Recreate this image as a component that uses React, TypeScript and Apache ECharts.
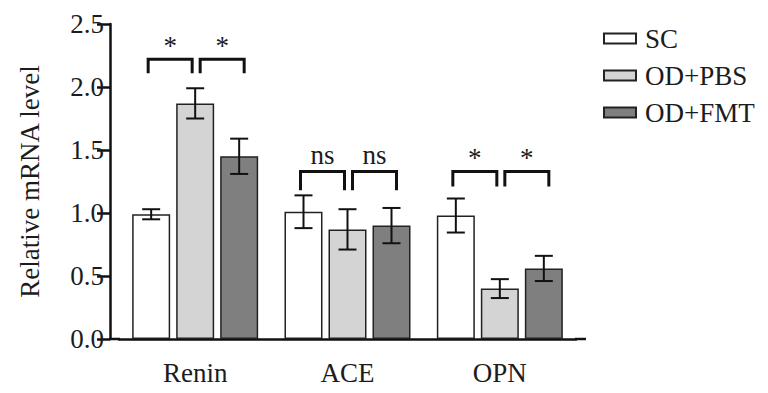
import React, { useEffect, useRef } from "react";
import * as echarts from "echarts";

const categories = ["Renin", "ACE", "OPN"];
const seriesNames = ["SC", "OD+PBS", "OD+FMT"];
const scMean = [0.99, 1.01, 0.98];
const scErr = [0.04, 0.13, 0.135];
const pbsMean = [1.87, 0.87, 0.4];
const pbsErr = [0.12, 0.16, 0.075];
const fmtMean = [1.45, 0.9, 0.56];
const fmtErr = [0.14, 0.14, 0.1];

const sigLabels = ["*", "*", "ns", "ns", "*", "*"];
const sigCats = [0, 0, 1, 1, 2, 2];
const sigSides = [-1, 1, -1, 1, -1, 1];
const sigTop = [2.22, 2.22, 1.33, 1.33, 1.33, 1.33];
const sigLeg = [2.11, 2.11, 1.18, 1.18, 1.21, 1.21];

const yTicks = { min: 0, max: 2.5, interval: 0.5 };

const FONT = "Liberation Serif, Times New Roman, serif";
const TEXT = "#1c1c1c";
const colors = ["#ffffff", "#d4d4d4", "#7f7f7f"];

function errSeries(means: number[], errs: number[], offset: number) {
  return {
    type: "custom",
    z: 5,
    silent: true,
    encode: { x: 0, y: 1 },
    data: means.map((m, i) => [i, m, errs[i]]),
    renderItem: (params: any, api: any) => {
      const x = api.value(0);
      const m = api.value(1);
      const e = api.value(2);
      const c = api.coord([x, m]);
      const top = api.coord([x, m + e])[1];
      const bot = api.coord([x, m - e])[1];
      const cx = c[0] + offset;
      const hw = 9;
      const st = { stroke: "#111", lineWidth: 2 };
      return {
        type: "group",
        children: [
          { type: "line", shape: { x1: cx, y1: top, x2: cx, y2: bot }, style: st },
          { type: "line", shape: { x1: cx - hw, y1: top, x2: cx + hw, y2: top }, style: st },
          { type: "line", shape: { x1: cx - hw, y1: bot, x2: cx + hw, y2: bot }, style: st },
        ],
      };
    },
  };
}

export default function App() {
  const ref = useRef<HTMLDivElement>(null);
  useEffect(() => {
    if (!ref.current) return;
    const chart = echarts.init(ref.current, undefined, { renderer: "svg" });
    const barCommon = {
      type: "bar",
      barWidth: 38,
      barGap: "15.8%",
      z: 2,
    };
    const means = [scMean, pbsMean, fmtMean];
    const option: any = {
      animation: false,
      backgroundColor: "#ffffff",
      textStyle: { fontFamily: FONT },
      grid: { left: 119, right: 192, top: 24, bottom: 54, containLabel: false },
      legend: {
        data: seriesNames.map((n) => ({ name: n, icon: "rect" })),
        orient: "vertical",
        left: 598,
        top: 20,
        itemWidth: 32,
        itemHeight: 10,
        itemGap: 10,
        selectedMode: false,
        textStyle: { fontFamily: FONT, fontSize: 27, color: TEXT, padding: [0, 0, 0, 4] },
      },
      xAxis: {
        type: "category",
        data: categories,
        axisLine: { lineStyle: { color: "#111", width: 2.5 } },
        axisTick: { alignWithLabel: true, length: 12, lineStyle: { color: "#111", width: 2.5 } },
        axisLabel: { fontFamily: FONT, fontSize: 27, color: TEXT, margin: 20 },
      },
      yAxis: {
        type: "value",
        min: yTicks.min,
        max: yTicks.max,
        interval: yTicks.interval,
        offset: 9,
        name: "Relative mRNA level",
        nameLocation: "middle",
        nameGap: 67,
        nameTextStyle: { fontFamily: FONT, fontSize: 27, color: TEXT },
        axisLine: { show: true, lineStyle: { color: "#111", width: 2.5 } },
        axisTick: { show: true, length: 13, lineStyle: { color: "#111", width: 2.5 } },
        splitLine: { show: false },
        axisLabel: {
          fontFamily: FONT,
          fontSize: 27,
          color: TEXT,
          margin: 6,
          formatter: (v: number) => v.toFixed(1),
        },
      },
      graphic: [
        { type: "line", shape: { x1: 109, y1: 339, x2: 120, y2: 339 }, style: { stroke: "#111", lineWidth: 2.5 } },
        { type: "line", shape: { x1: 575, y1: 339, x2: 586, y2: 339 }, style: { stroke: "#111", lineWidth: 2.5 } },
      ],
      series: [
        ...seriesNames.map((name, k) => ({
          ...barCommon,
          name,
          data: means[k],
          itemStyle: { color: colors[k], borderColor: "#222", borderWidth: 1.5 },
        })),
        errSeries(scMean, scErr, -44),
        errSeries(pbsMean, pbsErr, 0),
        errSeries(fmtMean, fmtErr, 44),
        {
          type: "custom",
          z: 6,
          silent: true,
          encode: { x: 0, y: 1 },
          data: sigLabels.map((l, i) => [sigCats[i], sigTop[i], sigLeg[i], sigSides[i]]),
          renderItem: (params: any, api: any) => {
            const idx = params.dataIndex;
            const x = api.value(0);
            const c = api.coord([x, api.value(1)]);
            const yTop = c[1];
            const yLeg = api.coord([x, api.value(2)])[1];
            const side = api.value(3);
            const x0 = side < 0 ? c[0] - 47 : c[0] + 5;
            const x1 = x0 + 44;
            const label = sigLabels[idx];
            return {
              type: "group",
              children: [
                {
                  type: "polyline",
                  shape: { points: [[x0, yLeg], [x0, yTop], [x1, yTop], [x1, yLeg]] },
                  style: { stroke: "#111", lineWidth: 3, fill: "none" },
                },
                {
                  type: "text",
                  x: (x0 + x1) / 2,
                  y: yTop - (label === "*" ? 13 : 16),
                  style: {
                    text: label,
                    fontFamily: FONT,
                    fontSize: 27,
                    fill: TEXT,
                    align: "center",
                    verticalAlign: "middle",
                  },
                },
              ],
            };
          },
        },
      ],
    };
    chart.setOption(option);
    return () => chart.dispose();
  }, []);
  return (
    <div
      ref={ref}
      style={{ position: "fixed", left: 0, top: 0, width: 768, height: 393, background: "#fff" }}
    />
  );
}
